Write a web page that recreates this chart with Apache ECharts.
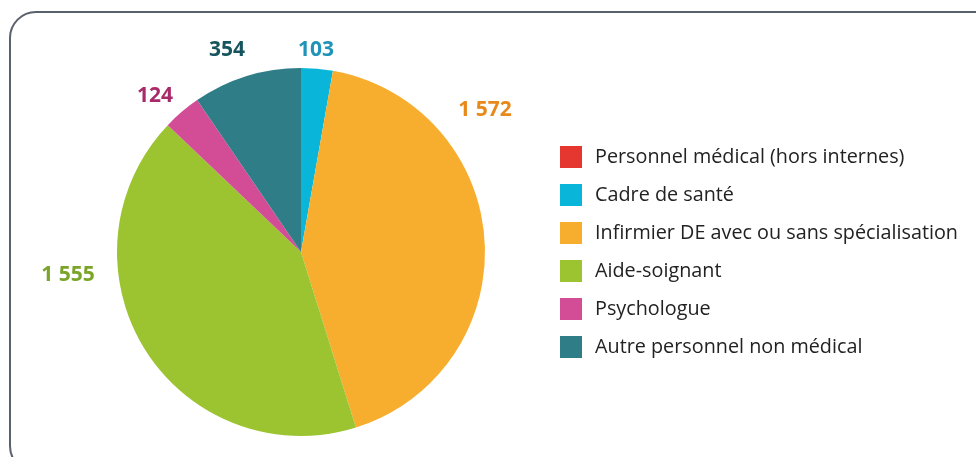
<!DOCTYPE html>
<html>
<head>
<meta charset="utf-8">
<script src="https://cdn.jsdelivr.net/npm/echarts@6/dist/echarts.min.js"></script>
<style>
html,body{margin:0;padding:0;background:#fff;}
#c{width:976px;height:457px;}
</style>
</head>
<body>
<div id="c"></div>
<script>
const categories = ["Personnel médical (hors internes)", "Cadre de santé", "Infirmier DE avec ou sans spécialisation", "Aide-soignant", "Psychologue", "Autre personnel non médical"];
const values = [0, 103, 1572, 1555, 124, 354];
const sliceColors = ["#e5362f", "#09b5d9", "#f7ae2f", "#9cc431", "#d24c96", "#2f7d87"];
const labelColors = ["#e5362f", "#1f93b8", "#e8891b", "#7aa42a", "#a92a6b", "#17555e"];
const labelPos = [null, [316, 50], [485, 110], [68, 275], [155, 96], [227, 50]];

function fmt(v){ return String(v).replace(/\B(?=(\d{3})+(?!\d))/g, " "); }

const chart = echarts.init(document.getElementById('c'));
chart.setOption({
  animation: false,
  graphic: [{
    type: 'rect',
    shape: {x: 10, y: 12, width: 990, height: 460, r: 26},
    style: {fill: 'none', stroke: '#59616d', lineWidth: 2},
    silent: true
  }],
  legend: {
    orient: 'vertical',
    left: 560,
    top: 146,
    padding: 0,
    itemWidth: 22,
    itemHeight: 22,
    itemGap: 16,
    icon: 'rect',
    selectedMode: false,
    data: categories,
    textStyle: {fontFamily: 'Open Sans', fontSize: 19.8, color: '#222', padding: [0,0,0,8]}
  },
  series: [{
    type: 'pie',
    center: [301, 252],
    radius: [0, 184],
    startAngle: 90,
    clockwise: true,
    stillShowZeroSum: false,
    avoidLabelOverlap: false,
    labelLine: {show: false},
    label: {
      show: true,
      position: 'outside',
      fontFamily: 'Open Sans',
      fontWeight: 'bold',
      fontSize: 21,
      formatter: p => fmt(p.value)
    },
    labelLayout: function (params) {
      const pos = labelPos[params.dataIndex];
      if (!pos) return {};
      return {x: pos[0], y: pos[1], align: 'center', verticalAlign: 'middle'};
    },
    emphasis: {disabled: true},
    data: categories.map((n, i) => ({
      name: n,
      value: values[i],
      itemStyle: {color: sliceColors[i]},
      label: {show: values[i] > 0, color: labelColors[i]}
    }))
  }]
});
</script>
</body>
</html>
